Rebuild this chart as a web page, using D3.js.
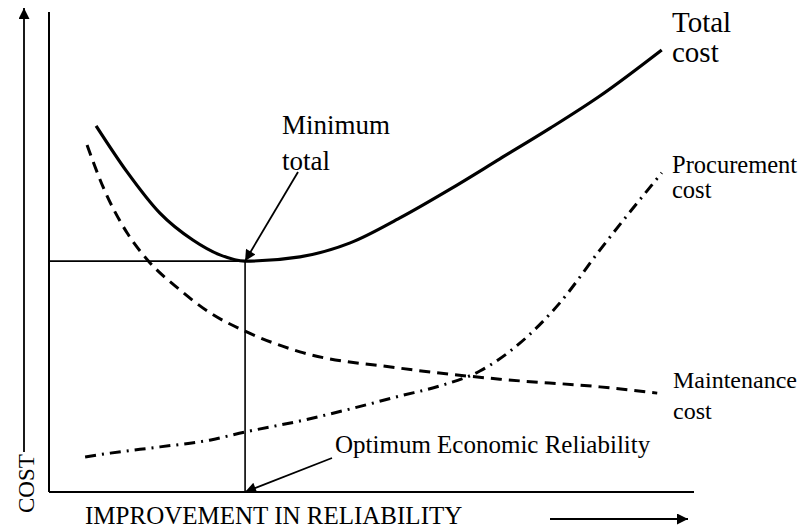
<!DOCTYPE html>
<html>
<head>
<meta charset="utf-8">
<script src="https://cdn.jsdelivr.net/npm/d3@7"></script>
<style>
  html, body { margin: 0; padding: 0; background: #fff; }
</style>
</head>
<body>
<div id="chart"></div>
<script>
// Cost curves (x = improvement in reliability, y = cost, both 0..100)
const totalX = [7.3, 12.1, 17.2, 22.3, 26.5, 30.4, 38.9, 46.7, 54.4, 62.2, 69.9, 77.7, 85.4, 95.0];
const totalY = [76.3, 66.7, 58.1, 52.5, 49.4, 48.1, 49.0, 51.9, 57.1, 63.1, 69.4, 75.8, 82.5, 92.1];

const maintX = [5.9, 8.4, 12.1, 15.3, 20.3, 25.0, 30.4, 38.9, 54.4, 69.9, 85.4, 94.3];
const maintY = [72.3, 63.5, 54.0, 48.3, 42.1, 37.3, 33.5, 29.2, 25.8, 23.5, 21.9, 20.6];

const procX = [5.6, 9.5, 17.2, 24.9, 30.4, 38.9, 46.7, 54.4, 60.6, 66.8, 73.0, 79.2, 85.4, 95.0];
const procY = [7.3, 8.1, 9.4, 10.8, 12.5, 14.8, 17.3, 20.0, 22.1, 25.2, 31.0, 39.4, 50.4, 66.5];

// optimum = minimum of total cost
const optimum = { x: 30.4, y: 48.1 };

const labels = {
  total: ["Total", "cost"],
  minimum: ["Minimum", "total"],
  procurement: ["Procurement", "cost"],
  maintenance: ["Maintenance", "cost"],
  optimum: "Optimum Economic Reliability",
  xTitle: "IMPROVEMENT IN RELIABILITY",
  yTitle: "COST"
};

const width = 802, height = 528;
const plot = { left: 49, right: 694, top: 12, bottom: 492 };

const x = d3.scaleLinear().domain([0, 100]).range([plot.left, plot.right]);
const y = d3.scaleLinear().domain([0, 100]).range([plot.bottom, plot.top]);

const svg = d3.select("#chart").append("svg")
  .attr("width", width)
  .attr("height", height)
  .style("font-family", "'Liberation Serif', 'Times New Roman', serif")
  .style("display", "block");

const defs = svg.append("defs");
defs.append("marker")
  .attr("id", "head")
  .attr("viewBox", "0 0 10 10")
  .attr("refX", 10).attr("refY", 5)
  .attr("markerWidth", 15).attr("markerHeight", 11)
  .attr("markerUnits", "userSpaceOnUse")
  .attr("orient", "auto")
  .append("path").attr("d", "M0,0 L10,5 L0,10 Z").attr("fill", "#000");

// axes (plain lines, no ticks)
svg.append("line")
  .attr("x1", x(0)).attr("y1", y(0)).attr("x2", x(0)).attr("y2", y(100))
  .attr("stroke", "#000").attr("stroke-width", 2);
svg.append("line")
  .attr("x1", x(0)).attr("y1", y(0)).attr("x2", x(100)).attr("y2", y(0))
  .attr("stroke", "#000").attr("stroke-width", 2);

// optimum reference lines
svg.append("line")
  .attr("x1", x(0)).attr("y1", y(optimum.y)).attr("x2", x(optimum.x)).attr("y2", y(optimum.y))
  .attr("stroke", "#000").attr("stroke-width", 1.6);
svg.append("line")
  .attr("x1", x(optimum.x)).attr("y1", y(optimum.y)).attr("x2", x(optimum.x)).attr("y2", y(0))
  .attr("stroke", "#000").attr("stroke-width", 1.6);

const line = d3.line()
  .x(d => x(d[0]))
  .y(d => y(d[1]))
  .curve(d3.curveMonotoneX);

svg.append("path")
  .attr("d", line(d3.zip(totalX, totalY)))
  .attr("fill", "none").attr("stroke", "#000").attr("stroke-width", 3.2);

svg.append("path")
  .attr("d", line(d3.zip(maintX, maintY)))
  .attr("fill", "none").attr("stroke", "#000").attr("stroke-width", 3)
  .attr("stroke-dasharray", "11,7");

svg.append("path")
  .attr("d", line(d3.zip(procX, procY)))
  .attr("fill", "none").attr("stroke", "#000").attr("stroke-width", 3)
  .attr("stroke-dasharray", "11,6,2,6");

// annotation arrows
svg.append("line")
  .attr("x1", 298).attr("y1", 172)
  .attr("x2", x(optimum.x)).attr("y2", y(optimum.y))
  .attr("stroke", "#000").attr("stroke-width", 1.8)
  .attr("marker-end", "url(#head)");

svg.append("line")
  .attr("x1", 332).attr("y1", 458)
  .attr("x2", x(optimum.x)).attr("y2", y(0))
  .attr("stroke", "#000").attr("stroke-width", 1.8)
  .attr("marker-end", "url(#head)");

// y title arrow and x title arrow
svg.append("line")
  .attr("x1", 24).attr("y1", 452).attr("x2", 24).attr("y2", 8)
  .attr("stroke", "#000").attr("stroke-width", 1.8)
  .attr("marker-end", "url(#head)");

svg.append("line")
  .attr("x1", 550).attr("y1", 519).attr("x2", 688).attr("y2", 519)
  .attr("stroke", "#000").attr("stroke-width", 1.8)
  .attr("marker-end", "url(#head)");

// labels
function twoLines(lines, tx, y1, y2, size) {
  const t = svg.append("text").attr("font-size", size).attr("fill", "#000");
  t.append("tspan").attr("x", tx).attr("y", y1).text(lines[0]);
  t.append("tspan").attr("x", tx).attr("y", y2).text(lines[1]);
}
twoLines(labels.total, 672, 32, 62, 29);
twoLines(labels.minimum, 282, 134, 170, 27);
twoLines(labels.procurement, 672, 173, 198, 24.5);
twoLines(labels.maintenance, 673, 388, 419, 24);

svg.append("text")
  .attr("x", 335).attr("y", 453)
  .attr("font-size", 25)
  .text(labels.optimum);

svg.append("text")
  .attr("x", 85).attr("y", 524)
  .attr("font-size", 25)
  .text(labels.xTitle);

svg.append("text")
  .attr("transform", "translate(34,513) rotate(-90)")
  .attr("font-size", 23)
  .text(labels.yTitle);
</script>
</body>
</html>
